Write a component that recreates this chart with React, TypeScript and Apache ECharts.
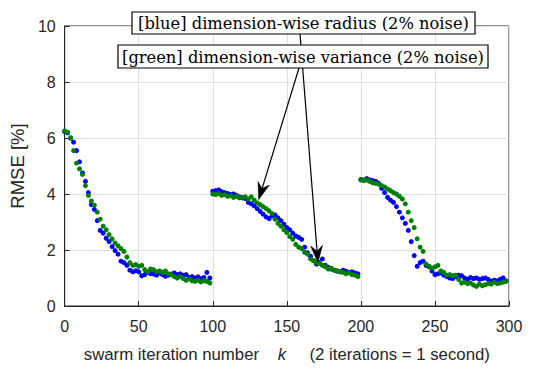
import React, { useEffect, useRef } from "react";
import * as echarts from "echarts";

// RMSE [%] sampled every 2 swarm iterations (k = 0, 2, 4, ..., 298)
const K_STEP = 2;

const blueRMSE = [
  // k 0..98
  6.22, 6.18, 6.0, 5.85, 5.55, 5.15, 4.75, 4.45, 4.05, 3.62,
  3.45, 3.05, 2.7, 2.6, 2.42, 2.3, 2.12, 1.98, 1.85, 1.6,
  1.55, 1.45, 1.28, 1.22, 1.26, 1.22, 1.08, 1.12, 1.2, 1.16,
  1.14, 1.1, 1.18, 1.12, 1.06, 1.1, 1.14, 1.18, 1.12, 1.15,
  1.1, 1.12, 1.02, 1.05, 1.0, 1.04, 0.98, 1.02, 1.2, 1.0,
  // k 100..198
  4.1, 4.12, 4.15, 4.08, 4.05, 4.02, 3.98, 4.0, 3.95, 3.9,
  3.86, 3.84, 3.7, 3.65, 3.58, 3.48, 3.38, 3.28, 3.18, 3.12,
  3.22, 3.25, 3.15, 3.05, 2.92, 2.8, 2.72, 2.6, 2.5, 2.45,
  2.38, 2.1, 1.9, 1.78, 1.62, 1.5, 1.55, 1.68, 1.45, 1.38,
  1.32, 1.28, 1.25, 1.22, 1.28, 1.24, 1.2, 1.22, 1.18, 1.15,
  // k 200..298
  4.52, 4.5, 4.55, 4.5, 4.48, 4.45, 4.38, 4.2, 4.05, 3.88,
  3.78, 3.7, 3.55, 3.35, 3.15, 2.95, 2.7, 2.3, 1.8, 1.42,
  1.55, 1.6, 1.45, 1.4, 1.25, 1.12, 1.15, 1.18, 1.1, 1.05,
  1.0, 0.98, 1.05, 1.1, 1.08, 1.0, 0.95, 1.02, 0.98, 1.0,
  0.95, 0.98, 1.0, 0.95, 0.88, 0.92, 0.9, 0.95, 1.0, 0.9,
];

const greenRMSE = [
  // k 0..98
  6.25, 6.2, 6.0, 5.55, 5.1, 4.9, 4.7, 4.3, 3.95, 3.75,
  3.6, 3.35, 3.1, 2.85, 2.72, 2.55, 2.4, 2.25, 2.15, 2.05,
  1.95, 1.75, 1.55, 1.45, 1.48, 1.42, 1.45, 1.3, 1.22, 1.32,
  1.3, 1.22, 1.25, 1.2, 1.25, 1.15, 1.12, 1.05, 1.0, 1.05,
  0.98, 0.92, 0.97, 0.9, 0.88, 0.92, 0.86, 0.9, 0.88, 0.82,
  // k 100..198
  4.0, 3.98, 4.02, 3.95, 3.98, 3.92, 3.94, 3.88, 3.92, 3.86,
  3.88, 3.9, 3.82, 3.9, 3.78, 3.68, 3.62, 3.55, 3.48, 3.4,
  3.3, 3.1, 2.95, 2.85, 2.72, 2.62, 2.48, 2.38, 2.2, 2.1,
  2.05, 1.92, 1.85, 1.68, 1.62, 1.55, 1.52, 1.45, 1.4, 1.32,
  1.35, 1.28, 1.25, 1.22, 1.2, 1.15, 1.18, 1.12, 1.1, 1.05,
  // k 200..298
  4.5, 4.48, 4.5, 4.45, 4.4, 4.38, 4.35, 4.3, 4.25, 4.18,
  4.12, 4.05, 4.0, 3.92, 3.82, 3.65, 3.35, 3.05, 2.8, 2.4,
  2.1, 1.95, 1.5, 1.42, 1.35, 1.4, 1.45, 1.25, 1.2, 1.1,
  1.12, 1.08, 1.1, 0.95, 0.82, 0.85, 0.8, 0.82, 0.75, 0.7,
  0.78, 0.72, 0.76, 0.8, 0.78, 0.85, 0.8, 0.82, 0.85, 0.88,
];

const annotationTexts = [
  "[blue] dimension-wise radius (2% noise)",
  "[green] dimension-wise variance (2% noise)",
];
// arrow tips in data coordinates [k, RMSE]
const blueArrowTip = [171, 1.55];
const greenArrowTip = [131, 3.8];

const X_MIN = 0;
const X_MAX = 300;
const X_INTERVAL = 50;
const Y_MIN = 0;
const Y_MAX = 10;
const Y_INTERVAL = 2;

const AXIS_COLOR = "#262626";
const SANS = "Liberation Sans, Arial, sans-serif";
const SERIF = "DejaVu Serif, serif";

function arrow(tail: number[], tip: number[], z: number) {
  const dx = tip[0] - tail[0];
  const dy = tip[1] - tail[1];
  const len = Math.sqrt(dx * dx + dy * dy);
  const ux = dx / len;
  const uy = dy / len;
  const nx = -uy;
  const ny = ux;
  const L = 17;
  const W = 6;
  const notch = 5.5;
  const back = [tip[0] - ux * L, tip[1] - uy * L];
  const mid = [tip[0] - ux * (L - notch), tip[1] - uy * (L - notch)];
  return [
    {
      type: "line",
      z,
      shape: { x1: tail[0], y1: tail[1], x2: mid[0], y2: mid[1] },
      style: { stroke: "#000", lineWidth: 1.2 },
    },
    {
      type: "polygon",
      z,
      shape: {
        points: [
          tip,
          [back[0] + nx * W, back[1] + ny * W],
          mid,
          [back[0] - nx * W, back[1] - ny * W],
        ],
      },
      style: { fill: "#000", stroke: "#000", lineWidth: 0.5 },
    },
  ];
}

export default function App() {
  const ref = useRef<HTMLDivElement>(null);
  useEffect(() => {
    const chart = echarts.init(ref.current!, null, { renderer: "svg" });
    const toPairs = (arr: number[]) => arr.map((v, i) => [i * K_STEP, v]);
    chart.setOption({
      animation: false,
      backgroundColor: "#fff",
      grid: {
        left: 62,
        right: 40,
        top: 26,
        bottom: 62,
        show: true,
        borderColor: AXIS_COLOR,
        borderWidth: 1,
        backgroundColor: "transparent",
      },
      xAxis: {
        type: "value",
        min: X_MIN,
        max: X_MAX,
        interval: X_INTERVAL,
        name: "{a|swarm iteration number}    {i|k}     {a|(2 iterations = 1 second)}",
        nameLocation: "middle",
        nameGap: 40,
        nameTextStyle: {
          rich: {
            a: { fontFamily: SANS, fontSize: 16.8, color: AXIS_COLOR },
            i: { fontFamily: SANS, fontSize: 16.8, fontStyle: "italic", color: AXIS_COLOR },
          },
          fontFamily: SANS,
          fontSize: 16.8,
          color: AXIS_COLOR,
        },
        axisLine: { show: true, onZero: false, lineStyle: { color: AXIS_COLOR, width: 1 } },
        axisTick: { show: true, inside: true, length: 5, lineStyle: { color: AXIS_COLOR } },
        axisLabel: { fontFamily: SANS, fontSize: 16, color: AXIS_COLOR, margin: 12 },
        splitLine: { show: true, lineStyle: { color: "#dfdfdf", width: 1 } },
      },
      yAxis: {
        type: "value",
        min: Y_MIN,
        max: Y_MAX,
        interval: Y_INTERVAL,
        name: "RMSE [%]",
        nameLocation: "middle",
        nameGap: 30,
        nameTextStyle: { fontFamily: SANS, fontSize: 18.5, color: AXIS_COLOR },
        axisLine: { show: true, onZero: false, lineStyle: { color: AXIS_COLOR, width: 1 } },
        axisTick: { show: true, inside: true, length: 5, lineStyle: { color: AXIS_COLOR } },
        axisLabel: { fontFamily: SANS, fontSize: 16, color: AXIS_COLOR, margin: 9 },
        splitLine: { show: true, lineStyle: { color: "#dfdfdf", width: 1 } },
      },
      series: [
        {
          name: "blue",
          type: "scatter",
          data: toPairs(blueRMSE),
          symbol: "circle",
          symbolSize: 5,
          itemStyle: { color: "#0000ff", opacity: 1 },
          z: 3,
        },
        {
          name: "green",
          type: "scatter",
          data: toPairs(greenRMSE),
          symbol: "circle",
          symbolSize: 5,
          itemStyle: { color: "#008000", opacity: 1 },
          z: 4,
        },
      ],
    });

    const bTip = chart.convertToPixel({ gridIndex: 0 }, blueArrowTip) as number[];
    const gTip = chart.convertToPixel({ gridIndex: 0 }, greenArrowTip) as number[];

    const blueBox = { x: 132, y: 12, w: 343, h: 22 };
    const greenBox = { x: 118, y: 45, w: 370, h: 23 };

    const graphic: any[] = [
      ...arrow([300, blueBox.y + blueBox.h], bTip, 50),
      ...arrow([299, greenBox.y + greenBox.h], gTip, 50),
      {
        type: "rect",
        z: 60,
        shape: { x: blueBox.x, y: blueBox.y, width: blueBox.w, height: blueBox.h },
        style: { fill: "#fff", stroke: "#000", lineWidth: 1.2 },
      },
      {
        type: "text",
        z: 61,
        x: blueBox.x + blueBox.w / 2,
        y: blueBox.y + blueBox.h / 2 + 0.5,
        style: {
          text: annotationTexts[0],
          fontFamily: SERIF,
          fontSize: 16.3,
          fill: "#000",
          align: "center",
          verticalAlign: "middle",
        },
      },
      {
        type: "rect",
        z: 60,
        shape: { x: greenBox.x, y: greenBox.y, width: greenBox.w, height: greenBox.h },
        style: { fill: "#fff", stroke: "#000", lineWidth: 1.2 },
      },
      {
        type: "text",
        z: 61,
        x: greenBox.x + greenBox.w / 2,
        y: greenBox.y + greenBox.h / 2 + 0.5,
        style: {
          text: annotationTexts[1],
          fontFamily: SERIF,
          fontSize: 16.3,
          fill: "#000",
          align: "center",
          verticalAlign: "middle",
        },
      },
    ];
    chart.setOption({ graphic });

    return () => chart.dispose();
  }, []);
  return (
    <div
      ref={ref}
      style={{ position: "fixed", left: 0, top: 0, width: 549, height: 368, background: "#fff" }}
    />
  );
}
